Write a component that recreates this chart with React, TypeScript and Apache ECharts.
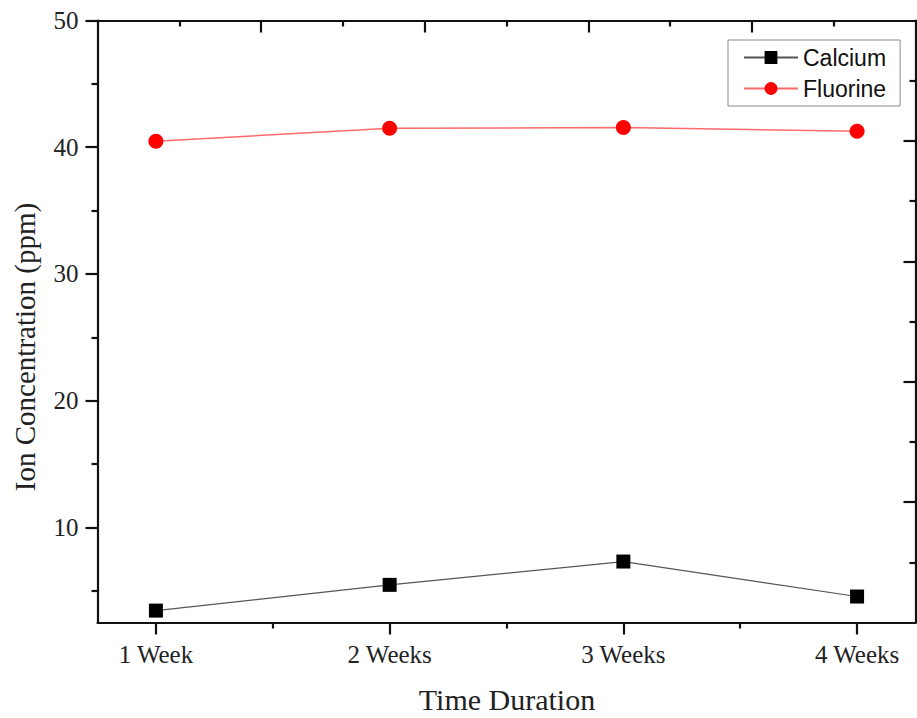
import React, { useEffect, useRef } from "react";
import * as echarts from "echarts";

const categories = ["1 Week", "2 Weeks", "3 Weeks", "4 Weeks"];
const categoryPositions = [1, 2, 3, 4];
const calcium = [3.44, 5.47, 7.31, 4.55];
const fluorine = [40.47, 41.5, 41.55, 41.26];
const yLabelTicks = [10, 20, 30, 40, 50];
const yMinorTicks = [5, 15, 25, 35, 45];
const xMinorTicks = [1.5, 2.5, 3.5];
const mirrorMajor = [2, 4, 6, 8];
const mirrorMinor = [1, 3, 5, 7, 9];

const SERIF = "'Liberation Serif', 'Times New Roman', serif";
const SANS = "'Liberation Sans', Arial, sans-serif";

export default function App() {
  const ref = useRef<HTMLDivElement>(null);
  useEffect(() => {
    if (!ref.current) return;
    const chart = echarts.init(ref.current, null, { renderer: "svg" });
    const lineStyle = { color: "#111", width: 2.2 };
    const hidden = { show: false };
    chart.setOption({
      animation: false,
      backgroundColor: "#ffffff",
      grid: { left: 97.5, top: 20.5, right: 1.5, bottom: 95.5, containLabel: false },
      legend: {
        orient: "vertical",
        left: 728,
        top: 40,
        padding: [6, 14, 6, 15],
        itemGap: 8,
        itemWidth: 54,
        itemHeight: 16,
        borderColor: "#8a8a8a",
        borderWidth: 1,
        textStyle: { fontFamily: SANS, fontSize: 23, color: "#111" },
        data: ["Calcium", "Fluorine"],
      },
      xAxis: [
        {
          type: "value",
          position: "bottom",
          min: 0.75,
          max: 4.25,
          axisLine: { show: true, lineStyle },
          axisTick: { show: true, customValues: categoryPositions, length: 12, lineStyle },
          axisLabel: {
            show: true,
            customValues: categoryPositions,
            margin: 19,
            fontFamily: SERIF,
            fontSize: 25,
            color: "#222",
            formatter: (v: number) => categories[Math.round(v) - 1] ?? "",
          },
          splitLine: hidden,
        },
        {
          type: "value",
          position: "bottom",
          min: 0.75,
          max: 4.25,
          axisLine: hidden,
          axisTick: { show: true, customValues: xMinorTicks, length: 6, lineStyle },
          axisLabel: hidden,
          splitLine: hidden,
        },
        {
          type: "value",
          position: "top",
          min: 0,
          max: 10,
          axisLine: { show: true, lineStyle },
          axisTick: { show: true, inside: true, customValues: mirrorMajor, length: 12, lineStyle },
          axisLabel: hidden,
          splitLine: hidden,
        },
        {
          type: "value",
          position: "top",
          min: 0,
          max: 10,
          axisLine: hidden,
          axisTick: { show: true, inside: true, customValues: mirrorMinor, length: 6, lineStyle },
          axisLabel: hidden,
          splitLine: hidden,
        },
      ],
      yAxis: [
        {
          type: "value",
          position: "left",
          min: 2.5,
          max: 50,
          axisLine: { show: true, lineStyle },
          axisTick: { show: true, customValues: yLabelTicks, length: 12, lineStyle },
          axisLabel: {
            show: true,
            customValues: yLabelTicks,
            margin: 19,
            fontFamily: SERIF,
            fontSize: 25,
            color: "#222",
          },
          splitLine: hidden,
        },
        {
          type: "value",
          position: "left",
          min: 2.5,
          max: 50,
          axisLine: hidden,
          axisTick: { show: true, customValues: yMinorTicks, length: 6, lineStyle },
          axisLabel: hidden,
          splitLine: hidden,
        },
        {
          type: "value",
          position: "right",
          min: 0,
          max: 10,
          axisLine: { show: true, lineStyle },
          axisTick: { show: true, inside: true, customValues: mirrorMajor, length: 12, lineStyle },
          axisLabel: hidden,
          splitLine: hidden,
        },
        {
          type: "value",
          position: "right",
          min: 0,
          max: 10,
          axisLine: hidden,
          axisTick: { show: true, inside: true, customValues: mirrorMinor, length: 6, lineStyle },
          axisLabel: hidden,
          splitLine: hidden,
        },
      ],
      series: [
        {
          name: "Calcium",
          type: "line",
          xAxisIndex: 0,
          yAxisIndex: 0,
          data: categoryPositions.map((x, i) => [x, calcium[i]]),
          symbol: "rect",
          symbolSize: 14,
          itemStyle: { color: "#000000" },
          lineStyle: { color: "#555555", width: 1.2 },
        },
        {
          name: "Fluorine",
          type: "line",
          xAxisIndex: 0,
          yAxisIndex: 0,
          data: categoryPositions.map((x, i) => [x, fluorine[i]]),
          symbol: "circle",
          symbolSize: 15,
          itemStyle: { color: "#ff0000" },
          lineStyle: { color: "#ff6a6a", width: 1.5 },
        },
      ],
      graphic: [
        {
          type: "text",
          x: 25,
          y: 347,
          rotation: Math.PI / 2,
          style: {
            text: "Ion Concentration (ppm)",
            fontFamily: SERIF,
            fontSize: 29,
            fill: "#222",
            align: "center",
            verticalAlign: "middle",
          },
        },
        {
          type: "text",
          x: 507,
          y: 699,
          style: {
            text: "Time Duration",
            fontFamily: SERIF,
            fontSize: 30,
            fill: "#222",
            align: "center",
            verticalAlign: "middle",
          },
        },
      ],
    });
    return () => chart.dispose();
  }, []);
  return (
    <div
      ref={ref}
      style={{ position: "fixed", left: 0, top: 0, width: 917, height: 718 }}
    />
  );
}
